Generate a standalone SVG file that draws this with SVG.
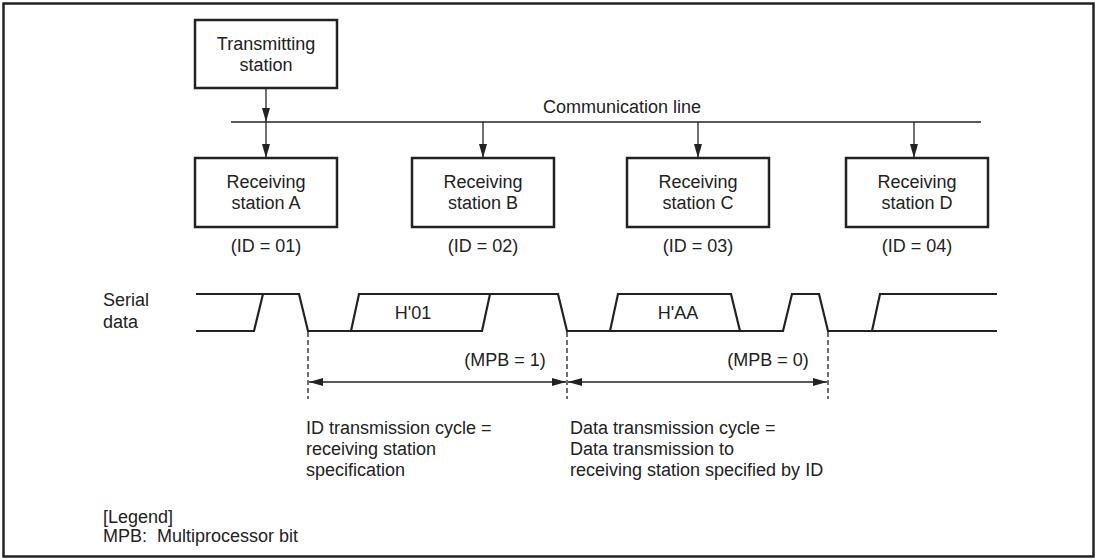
<svg xmlns="http://www.w3.org/2000/svg" width="1103" height="560" viewBox="0 0 1103 560">
<style>
text{font-family:"Liberation Sans",Arial,sans-serif;font-size:18px;fill:#222}
.box{fill:#fff;stroke:#222;stroke-width:2.5}
.ln{fill:none;stroke:#222;stroke-width:1.3}
.sig{fill:none;stroke:#222;stroke-width:2.2;stroke-linejoin:miter}
.dash{fill:none;stroke:#222;stroke-width:1.3;stroke-dasharray:5,3}
.c{text-anchor:middle}
</style>
<defs>
<marker id="ah" viewBox="0 0 14 8" refX="14" refY="4" markerWidth="14" markerHeight="8" markerUnits="userSpaceOnUse" orient="auto-start-reverse">
<path d="M0,0 L14,4 L0,8 Z" fill="#222"/>
</marker>
</defs>
<rect x="3.5" y="3.5" width="1090" height="553" fill="#fff" stroke="#222" stroke-width="2.5"/>

<g id="transmitting">
<rect class="box" x="195" y="20" width="142" height="68"/>
<text class="c" x="266" y="50">Transmitting</text>
<text class="c" x="266" y="71">station</text>
</g>
<g id="stationA">
<rect class="box" x="195" y="158" width="142" height="69"/>
<text class="c" x="266" y="188">Receiving</text>
<text class="c" x="266" y="209">station A</text>
<text class="c" x="266" y="252">(ID = 01)</text>
</g>
<g id="stationB">
<rect class="box" x="412" y="158" width="142" height="69"/>
<text class="c" x="483" y="188">Receiving</text>
<text class="c" x="483" y="209">station B</text>
<text class="c" x="483" y="252">(ID = 02)</text>
</g>
<g id="stationC">
<rect class="box" x="627" y="158" width="142" height="69"/>
<text class="c" x="698" y="188">Receiving</text>
<text class="c" x="698" y="209">station C</text>
<text class="c" x="698" y="252">(ID = 03)</text>
</g>
<g id="stationD">
<rect class="box" x="846" y="158" width="142" height="69"/>
<text class="c" x="917" y="188">Receiving</text>
<text class="c" x="917" y="209">station D</text>
<text class="c" x="917" y="252">(ID = 04)</text>
</g>

<g id="connectors">
<line class="ln" x1="231" y1="122" x2="981" y2="122"/>
<line class="ln" x1="266" y1="88" x2="266" y2="122" marker-end="url(#ah)"/>
<line class="ln" x1="266" y1="122" x2="266" y2="158" marker-end="url(#ah)"/>
<line class="ln" x1="483" y1="122" x2="483" y2="158" marker-end="url(#ah)"/>
<line class="ln" x1="698" y1="122" x2="698" y2="158" marker-end="url(#ah)"/>
<line class="ln" x1="914" y1="122" x2="914" y2="158" marker-end="url(#ah)"/>
</g>
<text x="543" y="113">Communication line</text>

<g id="serial-data">
<text x="103" y="306">Serial</text>
<text x="103" y="328">data</text>
<path class="sig" d="M196,294 H299 L308,331 H482 L490,294 H558 L567,331 H783 L792,294 H819 L828,331 H997"/>
<path class="sig" d="M196,331 H254 L263,294"/>
<path class="sig" d="M351,331 L359,294 H490"/>
<path class="sig" d="M610,331 L618,294 H731 L740,331"/>
<path class="sig" d="M872,331 L880,294 H997"/>
<text class="c" x="413" y="319">H'01</text>
<text class="c" x="678" y="319">H'AA</text>
</g>

<g id="cycles">
<line class="dash" x1="308" y1="332" x2="308" y2="399"/>
<line class="dash" x1="567" y1="332" x2="567" y2="399"/>
<line class="dash" x1="828" y1="332" x2="828" y2="399"/>
<line class="ln" x1="309" y1="382" x2="566" y2="382" marker-start="url(#ah)" marker-end="url(#ah)"/>
<line class="ln" x1="568" y1="382" x2="827" y2="382" marker-start="url(#ah)" marker-end="url(#ah)"/>
<text class="c" x="505" y="366">(MPB = 1)</text>
<text class="c" x="768" y="366">(MPB = 0)</text>
<text x="306" y="434">ID transmission cycle =</text>
<text x="306" y="455">receiving station</text>
<text x="306" y="476">specification</text>
<text x="570" y="434">Data transmission cycle =</text>
<text x="570" y="455">Data transmission to</text>
<text x="570" y="476">receiving station specified by ID</text>
</g>

<g id="legend">
<text x="103" y="523">[Legend]</text>
<text x="103" y="542" xml:space="preserve">MPB:  Multiprocessor bit</text>
</g>
</svg>
